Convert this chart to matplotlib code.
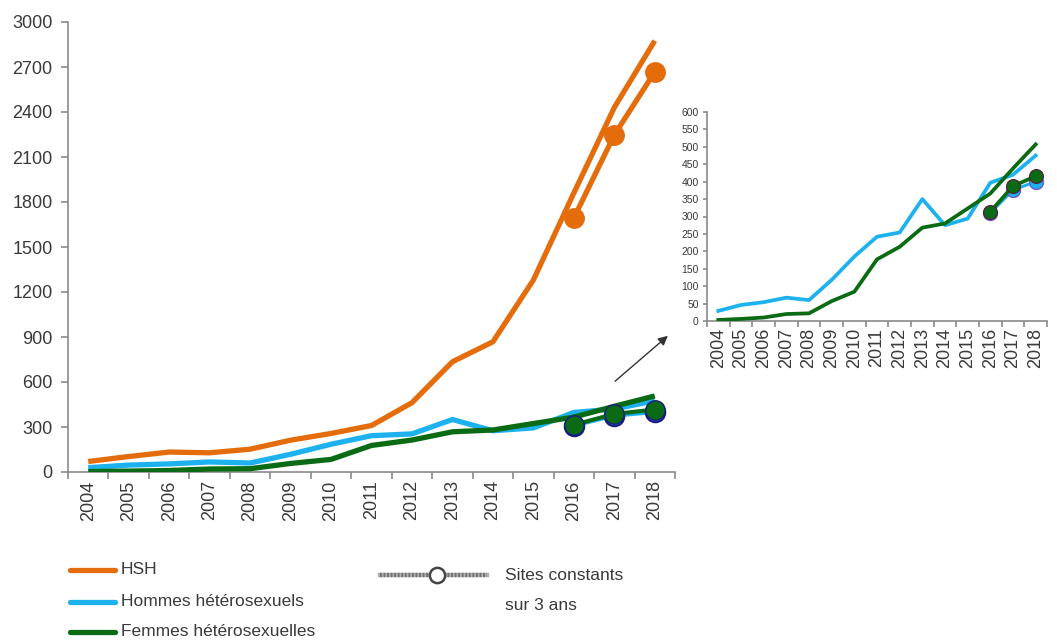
import matplotlib
matplotlib.use("Agg")
import matplotlib.pyplot as plt
from matplotlib.lines import Line2D
import numpy as np

plt.rcParams['font.family'] = ['Liberation Sans', 'DejaVu Sans']

years = ['2004', '2005', '2006', '2007', '2008', '2009', '2010', '2011',
         '2012', '2013', '2014', '2015', '2016', '2017', '2018']
hsh = [70, 103, 133, 128, 152, 212, 257, 310, 462, 735, 868, 1280, 1860, 2430, 2875]
hommes = [29, 46, 54, 67, 60, 118, 185, 242, 254, 350, 275, 294, 397, 420, 475]
femmes = [3, 6, 10, 20, 22, 57, 84, 177, 213, 268, 280, 323, 366, 438, 507]

const_years = ['2016', '2017', '2018']
hsh_const = [1693, 2247, 2667]
hommes_const = [310, 376, 400]
femmes_const = [314, 387, 416]

C_HSH = '#E46C0A'
C_HOM = '#1DB2EE'
C_FEM = '#0B6B14'
C_EDGE = '#1A1A80'
TXT = '#3a3a3a'
SPINE = '#8a8a8a'

W, H = 1057, 642
fig = plt.figure(figsize=(W / 100, H / 100), dpi=100)

def fx(px):
    return px / W

def fy(py):
    return 1 - py / H

x = np.arange(len(years))
xc = np.array([years.index(y) for y in const_years])

def style_axes(ax, ylabsize, xlabsize):
    for s in ['top', 'right']:
        ax.spines[s].set_visible(False)
    for s in ['left', 'bottom']:
        ax.spines[s].set_color(SPINE)
        ax.spines[s].set_linewidth(1.2)
    ax.set_xlim(-0.5, len(years) - 0.5)
    ax.set_xticks(x)
    ax.set_xticklabels(years, rotation=90, fontsize=xlabsize, color=TXT)
    ax.set_xticks(np.arange(-0.5, len(years), 1.0), minor=True)
    ax.tick_params(axis='x', which='major', length=0, pad=6)
    ax.tick_params(axis='x', which='minor', length=5, color=SPINE, width=1.2, direction='out')
    ax.tick_params(axis='y', length=5, color=SPINE, width=1.2, direction='out',
                   labelsize=ylabsize, labelcolor=TXT)

# Main axes
ax = fig.add_axes([fx(68), fy(472), fx(675) - fx(68), fy(22) - fy(472)])
ax.plot(x, hsh, color=C_HSH, lw=3.8, solid_capstyle='butt', zorder=3)
ax.plot(x, hommes, color=C_HOM, lw=3.8, solid_capstyle='butt', zorder=3)
ax.plot(x, femmes, color=C_FEM, lw=3.8, solid_capstyle='butt', zorder=3)
ax.plot(xc, hsh_const, color=C_HSH, lw=3.8, marker='o', ms=14,
        mfc=C_HSH, mec=C_HSH, zorder=4)
ax.plot(xc, hommes_const, color=C_HOM, lw=3.0, marker='o', ms=14,
        mfc=C_HOM, mec=C_EDGE, mew=1.5, zorder=4)
ax.plot(xc, femmes_const, color=C_FEM, lw=3.0, marker='o', ms=14,
        mfc=C_FEM, mec=C_EDGE, mew=1.0, zorder=5)
ax.set_ylim(0, 3000)
ax.set_yticks(np.arange(0, 3001, 300))
style_axes(ax, 13, 13)
ax.tick_params(axis='y', pad=6)

# Inset axes
ia = fig.add_axes([fx(707), fy(321), fx(1047) - fx(707), fy(112) - fy(321)])
ia.plot(x, hommes, color=C_HOM, lw=2.7, zorder=3)
ia.plot(x, femmes, color=C_FEM, lw=2.7, zorder=3)
ia.plot(xc, hommes_const, color=C_HOM, lw=2.2, marker='o', ms=10,
        mfc=C_HOM, mec='#6a5acd', mew=1.0, zorder=4)
ia.plot(xc, femmes_const, color=C_FEM, lw=2.7, marker='o', ms=10,
        mfc=C_FEM, mec='#5a1a3a', mew=0.8, zorder=5)
ia.set_ylim(0, 600)
ia.set_yticks(np.arange(0, 601, 50))
style_axes(ia, 7.5, 13)
ia.tick_params(axis='y', length=3, pad=3)
ia.tick_params(axis='x', which='minor', length=4)
ia.tick_params(axis='x', which='major', pad=5)

# Arrow
fig.add_artist(matplotlib.patches.FancyArrowPatch(
    (fx(613), fy(383)), (fx(670), fy(334)), transform=fig.transFigure,
    arrowstyle='-|>', mutation_scale=14, color='#333333', lw=1.0))

# Legend
entries = [('HSH', C_HSH, 570), ('Hommes hétérosexuels', C_HOM, 602),
           ('Femmes hétérosexuelles', C_FEM, 632)]
for lab, col, py in entries:
    fig.add_artist(Line2D([fx(70), fx(115)], [fy(py), fy(py)], color=col, lw=3.8,
                          solid_capstyle='round', transform=fig.transFigure))
    fig.text(fx(121), fy(py), lab, fontsize=12.5, color=TXT, va='center', ha='left')

py = 575
fig.add_artist(Line2D([fx(380), fx(487)], [fy(py), fy(py)], color='#b0b0b0', lw=3.2,
                      transform=fig.transFigure, zorder=5))
fig.add_artist(Line2D([fx(380), fx(487)], [fy(py), fy(py)], color='#707070', lw=3.2,
                      ls=(0, (0.4, 0.4)), transform=fig.transFigure, zorder=6))
fig.add_artist(Line2D([fx(437)], [fy(py)], marker='o', ms=11, mfc='white', mec='#444444',
                      mew=1.8, transform=fig.transFigure, zorder=7))
fig.text(fx(505), fy(py), 'Sites constants', fontsize=12.5, color=TXT, va='center', ha='left')
fig.text(fx(505), fy(606), 'sur 3 ans', fontsize=12.5, color=TXT, va='center', ha='left')

fig.savefig('out.png', dpi=100)
